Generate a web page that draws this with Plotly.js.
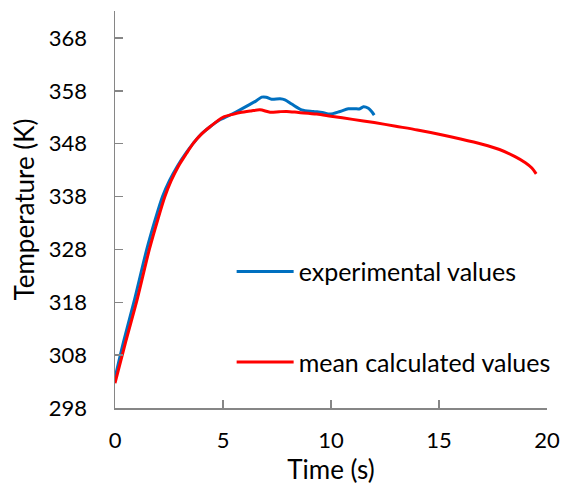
<!DOCTYPE html>
<html><head><meta charset="utf-8">
<script src="https://cdn.plot.ly/plotly-3.0.1.min.js"></script>
<style>html,body{margin:0;padding:0;background:#fff}</style>
</head><body><div id="chart" style="width:569px;height:488px"></div>
<script>
const expTime = [0,0.4,0.91,1.47,1.88,2.2,2.52,2.88,3.3,3.63,3.94,4.4,4.8,5.17,5.6,6.1,6.5,6.79,7.0,7.25,7.64,7.87,8.18,8.64,9.18,9.6,9.95,10.42,10.8,11.1,11.34,11.5,11.73,11.9,12.0];
const expTemp = [303.7,310.6,318.6,328,333.9,338,341,343.7,346.3,348.1,349.6,351.2,352.4,353.1,354.0,355.1,356.0,356.8,356.8,356.4,356.5,356.3,355.5,354.4,354.1,353.9,353.6,354.1,354.6,354.6,354.6,355.0,354.7,354.0,353.4];
const calcTime = [0,0.5,1.03,1.59,2.0,2.31,2.6,2.93,3.3,3.63,4.0,4.4,5.0,5.5,5.8,6.3,6.71,7.18,7.6,7.95,8.5,9.34,10,11,12,13,14,15,16,17,17.8,18.5,19,19.3,19.5];
const calcTemp = [302.7,310.6,318.6,328,333.9,338,341,343.7,346.1,348.1,349.8,351.2,353.0,353.6,353.9,354.2,354.4,353.95,354.05,354.1,353.9,353.6,353.2,352.6,352.0,351.3,350.6,349.8,348.9,347.9,346.9,345.6,344.4,343.4,342.3];
const yTicks = [298,308,318,328,338,348,358,368];
const xTicks = [0,5,10,15,20];

const family = 'Lato, "Liberation Sans", sans-serif';
const tickFont = {family: family, size: 22, color: '#000'};
const titleFont = {family: family, size: 26, color: '#000'};
const legendFont = {family: family, size: 25, color: '#000'};
const data = [
  {x: expTime, y: expTemp, mode: 'lines', name: 'experimental values', legendgroup: 'a',
   line: {color: '#0070C0', width: 3, shape: 'spline', smoothing: 0.8}},
  {x: calcTime, y: calcTemp, mode: 'lines', name: 'mean calculated values', legendgroup: 'b',
   line: {color: '#FF0000', width: 3, shape: 'spline', smoothing: 0.8}}
];
const axisCommon = {showgrid: false, zeroline: false, showline: true, linecolor: '#868686', linewidth: 1.5,
  ticks: 'inside', ticklen: 8, tickcolor: '#868686', tickwidth: 1.5, tickfont: tickFont};
const layout = {
  width: 569, height: 488,
  margin: {l: 115, r: 22, t: 11, b: 80},
  paper_bgcolor: '#fff', plot_bgcolor: '#fff',
  font: tickFont,
  showlegend: true,
  legend: {x: 0.27, y: 0.23, xanchor: 'left', yanchor: 'middle', traceorder: 'grouped', tracegroupgap: 55,
           font: legendFont, bgcolor: 'rgba(0,0,0,0)', itemwidth: 57},
  xaxis: Object.assign({}, axisCommon, {range: [0, 20], tickvals: xTicks, ticklabelstandoff: 12,
    title: {text: 'Time (s)', font: titleFont, standoff: 4}}),
  yaxis: Object.assign({}, axisCommon, {range: [298, 373.1], tickvals: yTicks, ticklabelstandoff: 22,
    title: {text: 'Temperature (K)', font: titleFont, standoff: 6}})
};
Plotly.newPlot('chart', data, layout, {displayModeBar: false, staticPlot: true});
</script></body></html>
